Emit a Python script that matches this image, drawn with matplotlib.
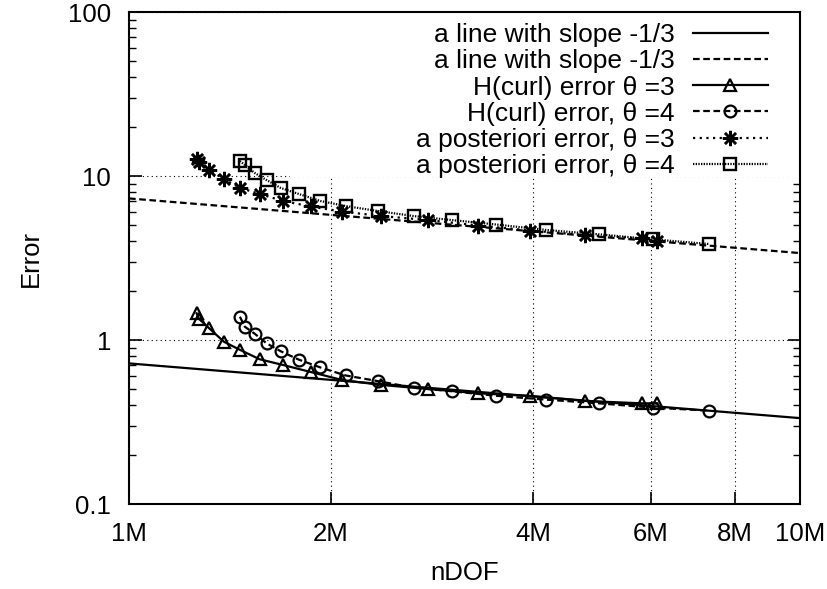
import matplotlib
matplotlib.use("Agg")
import matplotlib.pyplot as plt
from matplotlib.patches import Rectangle
from matplotlib.ticker import FixedLocator, NullLocator, LogLocator, NullFormatter

plt.rcParams['font.family'] = ['Liberation Sans', 'DejaVu Sans']

# nDOF in millions
ndof_theta3 = [1.261, 1.272, 1.317, 1.385, 1.465, 1.566, 1.697, 1.866, 2.079, 2.377,
               2.789, 3.318, 3.963, 4.778, 5.82, 6.13]
ndof_theta4 = [1.463, 1.488, 1.540, 1.603, 1.684, 1.791, 1.929, 2.103, 2.347, 2.655,
               3.025, 3.528, 4.183, 5.02, 6.03, 7.32]

hcurl_theta3 = [1.455, 1.343, 1.178, 0.976, 0.869, 0.763, 0.704, 0.638, 0.570, 0.532,
                0.503, 0.473, 0.456, 0.425, 0.411, 0.411]
hcurl_theta4 = [1.387, 1.205, 1.091, 0.955, 0.853, 0.759, 0.680, 0.608, 0.562, 0.512,
                0.487, 0.457, 0.433, 0.411, 0.387, 0.371]
post_theta3 = [12.7, 12.1, 10.88, 9.59, 8.45, 7.77, 7.04, 6.52, 6.07, 5.70,
               5.39, 4.99, 4.65, 4.37, 4.16, 3.99]
post_theta4 = [12.35, 11.67, 10.43, 9.45, 8.45, 7.77, 7.04, 6.56, 6.12, 5.70,
               5.39, 5.06, 4.69, 4.41, 4.11, 3.85]

# reference lines with slope -1/3 (end points)
slope_x = [1, 10]
slope_low = [0.72, 0.334]
slope_high = [7.3, 3.39]

xtick_vals = [1, 2, 4, 6, 8, 10]
xtick_labels = ['1M', '2M', '4M', '6M', '8M', '10M']
ytick_vals = [0.1, 1, 10, 100]
ytick_labels = ['0.1', '1', '10', '100']

fig = plt.figure(figsize=(8.27, 5.89), dpi=100)
ax = fig.add_axes([0.156, 0.1443, 0.8113, 0.8353])
ax.set_xscale('log')
ax.set_yscale('log')

fs = 18.5
lfs = 19
lw = 1.6
ms = 8.5
ax.plot(slope_x, slope_low, '-', color='k', lw=lw, label='a line with slope -1/3', zorder=3)
ax.plot(slope_x, slope_high, color='k', lw=lw, dashes=(3, 1.6),
        label='a line with slope -1/3', zorder=3)
ax.plot(ndof_theta3, hcurl_theta3, '-', color='k', lw=lw, marker='^', ms=ms,
        mfc='none', mec='k', mew=1.6, label='H(curl) error θ =3', zorder=4)
ax.plot(ndof_theta4, hcurl_theta4, color='k', lw=lw, dashes=(3, 1.6), marker='o', ms=ms,
        mfc='none', mec='k', mew=1.6, label='H(curl) error, θ =4', zorder=4)
ax.plot(ndof_theta3, post_theta3, color='k', lw=lw, dashes=(1, 2), marker=(8, 2, 0), ms=11,
        mec='k', mew=1.8, label='a posteriori error, θ =3', zorder=4)
ax.plot(ndof_theta4, post_theta4, color='k', lw=lw, dashes=(0.6, 0.6), marker='s', ms=ms,
        mfc='none', mec='k', mew=1.7, label='a posteriori error, θ =4', zorder=4)

ax.set_xlim(1, 10)
ax.set_ylim(0.1, 100)

ax.xaxis.set_major_locator(FixedLocator(xtick_vals))
ax.xaxis.set_minor_locator(NullLocator())
ax.set_xticklabels(xtick_labels)
ax.yaxis.set_major_locator(FixedLocator(ytick_vals))
ax.set_yticklabels(ytick_labels)
ax.yaxis.set_minor_locator(LogLocator(base=10, subs=range(2, 10)))
ax.yaxis.set_minor_formatter(NullFormatter())

ax.tick_params(which='both', direction='in', top=True, right=True, labelsize=fs, color='k')
ax.tick_params(which='major', length=9, width=1.2, pad=13)
ax.tick_params(which='minor', length=5, width=1.0)

ax.grid(True, which='major', color='k', linestyle=(0, (1, 3)), lw=0.8, zorder=0)
ax.set_axisbelow(True)
for sp in ax.spines.values():
    sp.set_linewidth(1.5)

# opaque key area
ax.add_patch(Rectangle((0.24, 0.665), 0.76, 0.335, transform=ax.transAxes,
                       facecolor='white', edgecolor='none', zorder=1.5))

ax.set_xlabel('nDOF', fontsize=fs, labelpad=11)
ax.set_ylabel('Error', fontsize=fs, labelpad=18)

leg = ax.legend(loc='upper right', bbox_to_anchor=(0.952, 0.977), frameon=False,
                markerfirst=False, fontsize=lfs, handlelength=2.85, handletextpad=0.68,
                labelspacing=0.08, borderpad=0, borderaxespad=0)
for t in leg.get_texts():
    t.set_ha('right')
leg.set_zorder(5)

fig.savefig('out.png', dpi=100)
